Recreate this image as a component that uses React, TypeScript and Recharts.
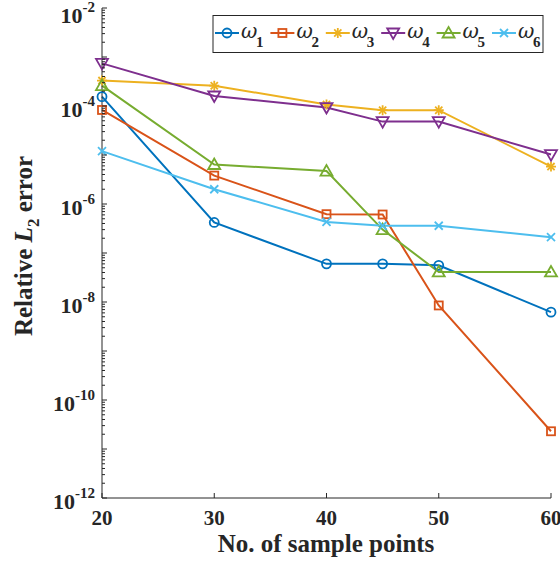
import React from 'react';
import { LineChart, Line, XAxis, YAxis, Customized } from 'recharts';

const xValues = [20, 30, 40, 45, 50, 60];
const omega1 = [1.55e-4, 4.2e-7, 6.0e-8, 6.0e-8, 5.6e-8, 6.2e-9];
const omega2 = [8.3e-5, 3.8e-6, 6.2e-7, 6.1e-7, 8.5e-9, 2.3e-11];
const omega3 = [3.3e-4, 2.6e-4, 1.07e-4, 8.2e-5, 8.2e-5, 5.8e-6];
const omega4 = [7.4e-4, 1.6e-4, 9.3e-5, 4.8e-5, 4.8e-5, 1.02e-5];
const omega5 = [2.6e-4, 6.4e-6, 4.7e-6, 3.0e-7, 4.1e-8, 4.1e-8];
const omega6 = [1.2e-5, 2.0e-6, 4.3e-7, 3.6e-7, 3.6e-7, 2.1e-7];

const seriesKeys = ['w1', 'w2', 'w3', 'w4', 'w5', 'w6'];
const seriesSubscripts = ['1', '2', '3', '4', '5', '6'];
const seriesColors = ['#0072BD', '#D95319', '#EDB120', '#7E2F8E', '#77AC30', '#4DBEEE'];
const seriesMarkers = ['circle', 'square', 'asterisk', 'triangleDown', 'triangleUp', 'cross'];
const seriesValues = [omega1, omega2, omega3, omega4, omega5, omega6];

const xTicks = [20, 30, 40, 50, 60];
const xTickLabels = ['20', '30', '40', '50', '60'];
const yMajorTicks = [1e-12, 1e-10, 1e-8, 1e-6, 1e-4, 1e-2];
const yExponentLabels = ['-12', '-10', '-8', '-6', '-4', '-2'];

const xLabel = 'No. of sample points';

const data = xValues.map((x, i) => {
  const row: Record<string, number> = { x };
  seriesKeys.forEach((k, s) => {
    row[k] = seriesValues[s][i];
  });
  return row;
});

const yTicks: number[] = [];
for (let e = -12; e < -2; e++) {
  for (let k = 1; k <= 9; k++) {
    yTicks.push(parseFloat((k * Math.pow(10, e)).toPrecision(3)));
  }
}
yTicks.push(1e-2);

const FONT = '"Liberation Serif", "Times New Roman", serif';
const GREEK_FONT = '"DejaVu Serif", "Liberation Serif", serif';
const AXIS_COLOR = '#262626';
const Y_TICK_MARGIN = 7;
const X_TICK_MARGIN = 12;

function Marker({ shape, cx, cy, color }: any) {
  const sw = 1.8;
  switch (shape) {
    case 'circle':
      return <circle cx={cx} cy={cy} r={4.5} fill="none" stroke={color} strokeWidth={sw} />;
    case 'square':
      return <rect x={cx - 4} y={cy - 4} width={8} height={8} fill="none" stroke={color} strokeWidth={sw} />;
    case 'triangleUp':
      return (
        <polygon
          points={`${cx},${cy - 6} ${cx - 6},${cy + 4.5} ${cx + 6},${cy + 4.5}`}
          fill="none"
          stroke={color}
          strokeWidth={sw}
        />
      );
    case 'triangleDown':
      return (
        <polygon
          points={`${cx},${cy + 6} ${cx - 6},${cy - 4.5} ${cx + 6},${cy - 4.5}`}
          fill="none"
          stroke={color}
          strokeWidth={sw}
        />
      );
    case 'asterisk':
      return (
        <g stroke={color} strokeWidth={sw}>
          <line x1={cx - 5} x2={cx + 5} y1={cy} y2={cy} />
          <line x1={cx} x2={cx} y1={cy - 5} y2={cy + 5} />
          <line x1={cx - 3.6} x2={cx + 3.6} y1={cy - 3.6} y2={cy + 3.6} />
          <line x1={cx - 3.6} x2={cx + 3.6} y1={cy + 3.6} y2={cy - 3.6} />
        </g>
      );
    case 'cross':
    default:
      return (
        <g stroke={color} strokeWidth={sw}>
          <line x1={cx - 4} x2={cx + 4} y1={cy - 4} y2={cy + 4} />
          <line x1={cx - 4} x2={cx + 4} y1={cy + 4} y2={cy - 4} />
        </g>
      );
  }
}

function majorIndex(v: number) {
  return yMajorTicks.findIndex((t) => Math.abs(t - v) / t < 1e-6);
}
function isDecade(v: number) {
  const e = Math.round(Math.log10(v));
  return Math.abs(v / Math.pow(10, e) - 1) < 1e-6;
}

const LeftTick = (props: any) => {
  const { x, y, payload } = props;
  const v = payload.value;
  const axisX = x + Y_TICK_MARGIN;
  const len = isDecade(v) ? 5 : 3;
  const idx = majorIndex(v);
  return (
    <g>
      <line x1={axisX} x2={axisX + len} y1={y} y2={y} stroke={AXIS_COLOR} strokeWidth={1} />
      {idx >= 0 && (
        <text
          x={x}
          y={Math.max(y + 10.5, 23)}
          textAnchor="end"
          fontFamily={FONT}
          fontWeight="bold"
          fontSize={22}
          fill={AXIS_COLOR}
        >
          10
          <tspan dy={-11} fontSize={15}>
            {yExponentLabels[idx]}
          </tspan>
        </text>
      )}
    </g>
  );
};

const RightTick = (props: any) => {
  const { x, y, payload } = props;
  const len = isDecade(payload.value) ? 5 : 3;
  return <line x1={x} x2={x - len} y1={y} y2={y} stroke={AXIS_COLOR} strokeWidth={1} />;
};

const BottomTick = (props: any) => {
  const { x, y, payload } = props;
  const axisY = y - X_TICK_MARGIN;
  const i = xTicks.indexOf(payload.value);
  return (
    <g>
      <line x1={x} x2={x} y1={axisY} y2={axisY - 5} stroke={AXIS_COLOR} strokeWidth={1} />
      <text
        x={x}
        y={y}
        dy="0.71em"
        textAnchor="middle"
        fontFamily={FONT}
        fontWeight="bold"
        fontSize={21}
        fill={AXIS_COLOR}
      >
        {i >= 0 ? xTickLabels[i] : payload.value}
      </text>
    </g>
  );
};

const TopTick = (props: any) => {
  const { x, y } = props;
  return <line x1={x} x2={x} y1={y} y2={y + 5} stroke={AXIS_COLOR} strokeWidth={1} />;
};

const AxisTitles = () => (
  <g fontFamily={FONT} fontWeight="bold" fill={AXIS_COLOR}>
    <text x={326} y={552} textAnchor="middle" fontSize={25}>
      {xLabel}
    </text>
    <text x={32} y={246} textAnchor="middle" fontSize={25} transform="rotate(-90 32 246)">
      <tspan>Relative </tspan>
      <tspan fontStyle="italic">L</tspan>
      <tspan dy={7} fontSize={17}>2</tspan>
      <tspan dy={-7}> error</tspan>
    </text>
  </g>
);

const LegendBox = () => {
  const left = 213;
  const top = 15.5;
  const step = 55.4;
  return (
    <g>
      <rect x={left} y={top} width={330} height={37} fill="#ffffff" stroke={AXIS_COLOR} strokeWidth={1} />
      {seriesKeys.map((k, i) => {
        const sx = left + 2 + i * step;
        const cy = 33;
        return (
          <g key={k}>
            <line x1={sx} x2={sx + 24} y1={cy} y2={cy} stroke={seriesColors[i]} strokeWidth={2} />
            <Marker shape={seriesMarkers[i]} cx={sx + 12} cy={cy} color={seriesColors[i]} />
            <text x={sx + 26} y={cy + 5} fontFamily={GREEK_FONT} fontStyle="italic" fontSize={20} fill={AXIS_COLOR}>
              ω
            </text>
            <text x={sx + 41} y={47} fontFamily={FONT} fontWeight="bold" fontSize={15} fill={AXIS_COLOR}>
              {seriesSubscripts[i]}
            </text>
          </g>
        );
      })}
    </g>
  );
};

export default function App() {
  return (
    <div style={{ position: 'absolute', left: 0, top: 0, width: 560, height: 564, background: '#fff' }}>
      <LineChart width={560} height={564} data={data} margin={{ top: 8, right: 9, left: 0, bottom: 0 }}>
        <XAxis
          xAxisId="bottom"
          dataKey="x"
          type="number"
          domain={[20, 60]}
          ticks={xTicks}
          interval={0}
          height={66}
          tickSize={0}
          tickMargin={X_TICK_MARGIN}
          tickLine={false}
          axisLine={{ stroke: AXIS_COLOR, strokeWidth: 1 }}
          tick={<BottomTick />}
        />
        <XAxis
          xAxisId="top"
          orientation="top"
          dataKey="x"
          type="number"
          domain={[20, 60]}
          ticks={xTicks}
          interval={0}
          height={0}
          tickSize={0}
          tickMargin={0}
          tickLine={false}
          axisLine={{ stroke: AXIS_COLOR, strokeWidth: 1 }}
          tick={<TopTick />}
        />
        <YAxis
          yAxisId="left"
          type="number"
          scale="log"
          domain={[1e-12, 1e-2]}
          allowDataOverflow
          ticks={yTicks}
          interval={0}
          width={102}
          tickSize={0}
          tickMargin={Y_TICK_MARGIN}
          tickLine={false}
          axisLine={{ stroke: AXIS_COLOR, strokeWidth: 1 }}
          tick={<LeftTick />}
        />
        <YAxis
          yAxisId="right"
          orientation="right"
          type="number"
          scale="log"
          domain={[1e-12, 1e-2]}
          allowDataOverflow
          ticks={yTicks}
          interval={0}
          width={0}
          tickSize={0}
          tickMargin={0}
          tickLine={false}
          axisLine={{ stroke: AXIS_COLOR, strokeWidth: 1 }}
          tick={<RightTick />}
        />
        {seriesKeys.map((k, i) => (
          <Line
            key={k}
            xAxisId="bottom"
            yAxisId="left"
            type="linear"
            dataKey={k}
            stroke={seriesColors[i]}
            strokeWidth={2}
            isAnimationActive={false}
            activeDot={false}
            dot={(p: any) =>
              p.cx == null || p.cy == null ? (
                <g key={`${k}-${p.index}`} />
              ) : (
                <g key={`${k}-${p.index}`}>
                  <Marker shape={seriesMarkers[i]} cx={p.cx} cy={p.cy} color={seriesColors[i]} />
                </g>
              )
            }
          />
        ))}
        <Customized component={AxisTitles} />
        <Customized component={LegendBox} />
      </LineChart>
    </div>
  );
}
